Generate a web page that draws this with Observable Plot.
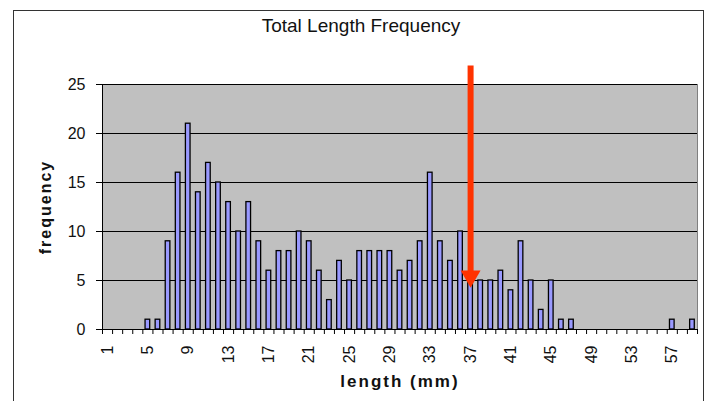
<!DOCTYPE html>
<html>
<head>
<meta charset="utf-8">
<script src="https://cdn.jsdelivr.net/npm/d3@7"></script>
<script src="https://cdn.jsdelivr.net/npm/@observablehq/plot@0.6"></script>
<style>
  html, body { margin: 0; padding: 0; background: #fff; }
  #wrap { position: relative; width: 707px; height: 401px; overflow: hidden; background: #fff; font-family: "Liberation Sans", Arial, sans-serif; }
  #box { position: absolute; left: 13px; top: 10px; width: 689px; height: 420px; border: 1px solid #333; background: #fff; }
  #title { position: absolute; top: 15px; left: 0; width: 722px; text-align: center; font-size: 19px; color: #111; }
  #chart { position: absolute; left: 0; top: 50px; }
</style>
</head>
<body>
<div id="wrap">
  <div id="box"></div>
  <div id="title">Total Length Frequency</div>
  <div id="chart"></div>
</div>
<script>
// Data
const lengths = d3.range(1, 60); // 1..59 mm
const frequencies = [
  0, 0, 0, 0, 1, 1, 9, 16, 21, 14,
  17, 15, 13, 10, 13, 9, 6, 8, 8, 10,
  9, 6, 3, 7, 5, 8, 8, 8, 8, 6,
  7, 9, 16, 9, 7, 10, 5, 5, 5, 6,
  4, 9, 5, 2, 5, 1, 1, 0, 0, 0,
  0, 0, 0, 0, 0, 0, 1, 0, 1
];
const yTicks = [0, 5, 10, 15, 20, 25];
const xLabelTicks = [1, 5, 9, 13, 17, 21, 25, 29, 33, 37, 41, 45, 49, 53, 57];
// Arrow annotation (length, top frequency, tip frequency)
const arrowX = [37];
const arrowTop = [26.9];
const arrowTip = [4.3];

const data = lengths.map((len, i) => ({len, freq: frequencies[i]}));
const boundaries = lengths.map(l => l - 0.5).concat([lengths[lengths.length - 1] + 0.5]);
const arrow = arrowX.map((x, i) => ({x, top: arrowTop[i], tip: arrowTip[i]}));

const font = "Liberation Sans, Arial, sans-serif";

const chart = Plot.plot({
  width: 707,
  height: 351,
  marginLeft: 102,
  marginRight: 10,
  marginTop: 34,
  marginBottom: 72,
  style: {fontFamily: font, fontSize: "16px", color: "#111", background: "transparent", overflow: "visible"},
  x: {domain: [0.5, 59.5], axis: null},
  y: {domain: [0, 25], axis: null},
  marks: [
    Plot.frame({fill: "#c0c0c0", stroke: "#808080"}),
    Plot.ruleY(yTicks.filter(d => d > 0), {stroke: "#000", strokeWidth: 1}),
    Plot.rect(data.filter(d => d.freq > 0), {
      x1: d => d.len - 0.23, x2: d => d.len + 0.23, y1: 0, y2: "freq",
      fill: "#9999ff", stroke: "#000", strokeWidth: 1.3
    }),
    Plot.ruleX([0.5], {stroke: "#000", strokeWidth: 1}),
    Plot.ruleY([0], {stroke: "#000", strokeWidth: 1}),
    Plot.axisY({ticks: yTicks, tickSize: 6, tickPadding: 11, label: null, fontSize: 16, stroke: "#000"}),
    Plot.axisX({ticks: boundaries, tickSize: 5, tickFormat: () => "", label: null, stroke: "#000"}),
    Plot.axisX({ticks: xLabelTicks, tickSize: 0, tickPadding: 16, tickRotate: -90, label: null, fontSize: 16}),
    Plot.text(["frequency"], {frameAnchor: "left", textAnchor: "middle", dx: -57, rotate: -90, fontSize: 16, fontWeight: "bold", fill: "#111"}),
    Plot.text(["length (mm)"], {frameAnchor: "bottom", dy: 57, fontSize: 17, fontWeight: "bold", fill: "#111"}),
    Plot.ruleX(arrow, {x: "x", y1: "top", y2: d => d.tip + 1.3, stroke: "#ff3300", strokeWidth: 6}),
    Plot.dot(arrow, {x: "x", y: "tip", dy: -11, symbol: "triangle", rotate: 180, r: 7.4, fill: "#ff3300", stroke: "none"})
  ]
});
chart.querySelectorAll("text").forEach(t => {
  if (t.textContent === "length (mm)" || t.textContent === "frequency") t.setAttribute("letter-spacing", "2");
});
chart.querySelectorAll('g[aria-label$="tick label"]').forEach(g => g.setAttribute("font-size", "16"));
document.getElementById("chart").appendChild(chart);
</script>
</body>
</html>
